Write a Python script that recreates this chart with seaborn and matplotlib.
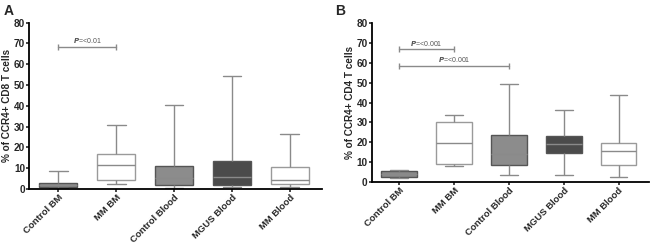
import numpy as np
import pandas as pd
import matplotlib
matplotlib.use("Agg")
import matplotlib.pyplot as plt
import seaborn as sns

# groups shared by both panels
groups = ["Control BM", "MM BM", "Control Blood", "MGUS Blood", "MM Blood"]
box_colors = ["#8a8a8a", "#ffffff", "#8c8c8c", "#4b4b4b", "#ffffff"]

# five-number summaries: min, q1, median, q3, max
cd8_min = [0.3, 2.2, 0.3, 0.8, 1.0]
cd8_q1 = [1.0, 4.3, 1.7, 2.1, 2.2]
cd8_med = [1.9, 11.4, 5.3, 5.6, 4.1]
cd8_q3 = [2.9, 16.8, 10.9, 13.6, 10.4]
cd8_max = [8.8, 30.9, 40.2, 54.1, 26.2]

cd4_min = [1.7, 8.2, 3.3, 3.3, 2.4]
cd4_q1 = [2.2, 8.9, 8.4, 14.7, 8.7]
cd4_med = [4.1, 19.5, 14.0, 19.0, 15.6]
cd4_q3 = [5.6, 30.1, 23.8, 23.3, 19.7]
cd4_max = [6.0, 33.8, 49.2, 36.2, 43.6]

# significance brackets: (from group, to group, height, label)
cd8_sig = [(0, 1, 68.5, "<0.01")]
cd4_sig = [(0, 1, 67.0, "<0.001"), (0, 2, 58.5, "<0.001")]


def long_table(mins, q1s, meds, q3s, maxs):
    rows = []
    for g, a, b, c, d, e in zip(groups, mins, q1s, meds, q3s, maxs):
        for v in (a, b, c, d, e):
            rows.append({"group": g, "value": v})
    return pd.DataFrame(rows)


sns.set_style("ticks")
plt.rcParams["font.family"] = ["Liberation Sans", "DejaVu Sans"]
plt.rcParams["font.weight"] = "bold"

fig = plt.figure(figsize=(6.5, 2.46), dpi=100)
ax_a = fig.add_axes([0.045, 0.232, 0.450, 0.676])
ax_b = fig.add_axes([0.572, 0.261, 0.426, 0.644])

panels = [
    (ax_a, long_table(cd8_min, cd8_q1, cd8_med, cd8_q3, cd8_max),
     "% of CCR4+ CD8 T cells", cd8_sig, "A", 0.006),
    (ax_b, long_table(cd4_min, cd4_q1, cd4_med, cd4_q3, cd4_max),
     "% of CCR4+ CD4 T cells", cd4_sig, "B", 0.515),
]

fs = 7.2
for ax, df, ylab, sigs, letter, lx in panels:
    sns.boxplot(data=df, x="group", y="value", hue="group", order=groups,
                palette=box_colors, whis=(0, 100), width=0.65,
                linecolor="#8a8a8a", linewidth=1.0, legend=False, ax=ax)
    # darker outlines on the filled boxes
    for patch, col in zip(ax.patches, box_colors):
        patch.set_edgecolor("#555555" if col != "#ffffff" else "#9a9a9a")
    ax.set_ylim(0, 80)
    ax.set_xlim(-0.5, 4.55)
    ax.set_yticks(range(0, 81, 10))
    ax.set_xlabel("")
    ax.set_ylabel(ylab, fontsize=fs, fontweight="bold", labelpad=1)
    ax.tick_params(axis="y", labelsize=fs, width=1.2, length=2.5, pad=0.5)
    ax.tick_params(axis="x", labelsize=6.8, width=1.2, length=2.5, pad=0.5)
    plt.setp(ax.get_xticklabels(), rotation=45, ha="right",
             rotation_mode="anchor", fontweight="bold")
    plt.setp(ax.get_yticklabels(), fontweight="bold")
    sns.despine(ax=ax)
    for s in ("left", "bottom"):
        ax.spines[s].set_linewidth(1.3)
        ax.spines[s].set_color("black")

    for i, j, h, txt in sigs:
        ax.plot([i, j], [h, h], color="#8a8a8a", lw=1.0,
                marker="|", markersize=4, markeredgewidth=1.0)
        ax.text((i + j) / 2, h + 0.8, r"$P$=" + txt, ha="center", va="bottom",
                fontsize=5, fontweight="normal", color="#555555")

    fig.text(lx, 0.985, letter, fontsize=10, fontweight="bold",
             ha="left", va="top")

fig.savefig("out.png", dpi=100)
